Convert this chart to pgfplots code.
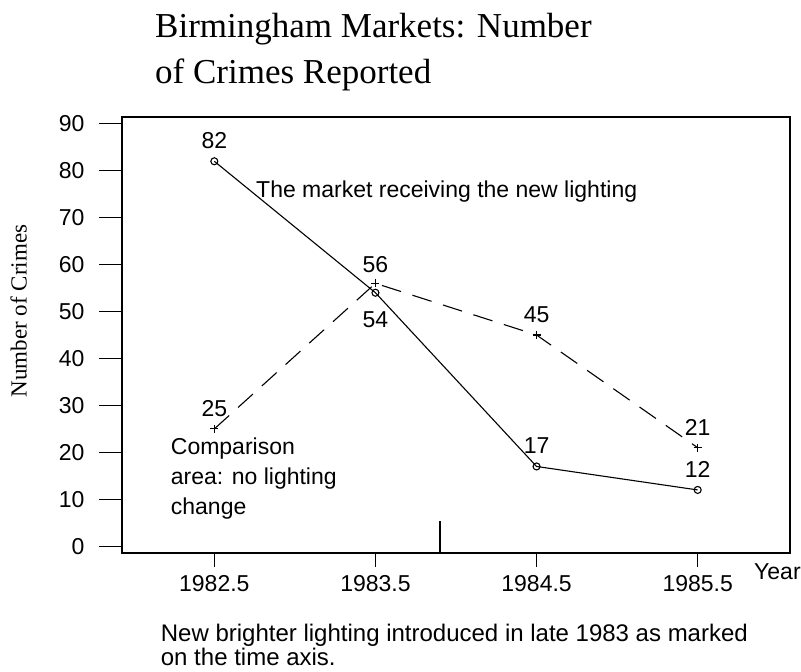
\documentclass[border=0pt]{standalone}
\usepackage{pgfplots}
\pgfplotsset{compat=1.18}
\usepackage{fontspec}
\setmainfont{Liberation Sans}
\newfontfamily\seriffont{Liberation Serif}
\newcommand\lab{\fontsize{23}{28}\selectfont}
\begin{document}
\begin{tikzpicture}
\useasboundingbox (-122pt,-119pt) rectangle (679pt,553pt);
\begin{axis}[
  at={(0pt,0pt)}, anchor=south west, scale only axis,
  width=668pt, height=436pt,
  xmin=1981.927, xmax=1986.073, ymin=-1.43, ymax=91.43,
  xtick={1982.5,1983.5,1984.5,1985.5},
  xticklabels={1982.5,1983.5,1984.5,1985.5},
  ytick={0,10,20,30,40,50,60,70,80,90},
  xtick pos=bottom, ytick pos=left, tick align=outside,
  major tick length=23pt,
  tick style={black, line width=1.3pt},
  xtick style={/pgfplots/major tick length=14pt},
  axis line style={black, line width=1.3pt},
  tick label style={font=\lab},
  yticklabel style={xshift=-11pt},
  xticklabel style={yshift=4pt},
  /pgf/number format/assume math mode=true,
  clip=false,
]
\addplot[black, line width=1.1pt, mark=o, mark size=3.5pt, mark options={solid}]
  coordinates {(1982.5,82) (1983.5,54) (1984.5,17) (1985.5,12)};
\addplot[black, line width=1.1pt, dash pattern=on 20pt off 12pt, mark=+, mark size=4pt, mark options={solid}]
  coordinates {(1982.5,25) (1983.5,56) (1984.5,45) (1985.5,21)};
\addplot[black, line width=1.3pt] coordinates {(1983.9,-1.43) (1983.9,5.4)};
\node[font=\lab, anchor=base, yshift=12.5pt] at (axis cs:1982.5,82) {82};
\node[font=\lab, anchor=base, yshift=-35pt] at (axis cs:1983.5,54) {54};
\node[font=\lab, anchor=base, yshift=12.5pt] at (axis cs:1984.5,17) {17};
\node[font=\lab, anchor=base, yshift=12.5pt] at (axis cs:1985.5,12) {12};
\node[font=\lab, anchor=base, yshift=12.5pt] at (axis cs:1982.5,25) {25};
\node[font=\lab, anchor=base, yshift=11pt] at (axis cs:1983.5,56) {56};
\node[font=\lab, anchor=base, yshift=12.5pt] at (axis cs:1984.5,45) {45};
\node[font=\lab, anchor=base, yshift=12.5pt] at (axis cs:1985.5,21) {21};
\end{axis}
\node[font=\seriffont\fontsize{35}{42}\selectfont, anchor=base west, inner sep=0pt] at (33pt,515pt) {Birmingham Markets: Number};
\node[font=\seriffont\fontsize{35}{42}\selectfont, anchor=base west, inner sep=0pt] at (33pt,469pt) {of Crimes Reported};
\node[font=\seriffont\fontsize{23}{28}\selectfont, rotate=90, anchor=base, inner sep=0pt] at (-95.3pt,242pt) {Number of Crimes};
\node[font=\lab, anchor=base west, inner sep=0pt] at (134pt,355pt) {The market receiving the new lighting};
\node[font=\lab, anchor=base west, inner sep=0pt] at (48.7pt,98pt) {Comparison};
\node[font=\lab, anchor=base west, inner sep=0pt] at (48.7pt,68pt) {area: no lighting};
\node[font=\lab, anchor=base west, inner sep=0pt] at (48.7pt,38pt) {change};
\node[font=\lab, anchor=base west, inner sep=0pt] at (632pt,-27pt) {Year};
\node[font=\fontsize{24}{28}\selectfont, anchor=base west, inner sep=0pt] at (38.7pt,-88.7pt) {New brighter lighting introduced in late 1983 as marked};
\node[font=\fontsize{24}{28}\selectfont, anchor=base west, inner sep=0pt] at (38.7pt,-112pt) {on the time axis.};
\end{tikzpicture}
\end{document}
